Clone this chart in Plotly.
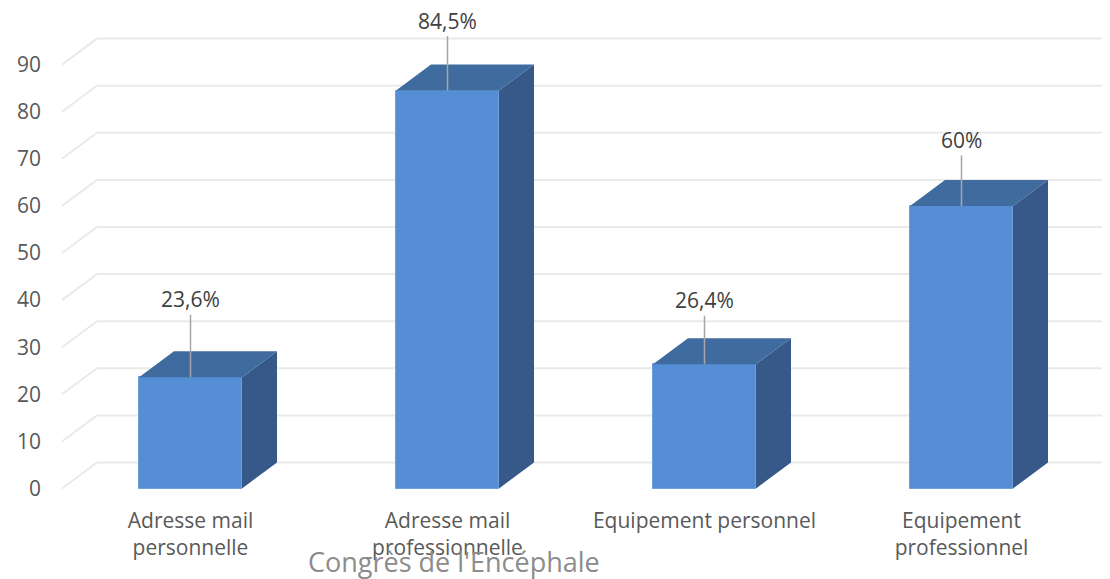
import plotly.graph_objects as go

# ---------------- data ----------------
categories = ["Adresse mail<br>personnelle", "Adresse mail<br>professionnelle",
              "Equipement personnel", "Equipement<br>professionnel"]
values = [23.6, 84.5, 26.4, 60]
value_labels = ["23,6%", "84,5%", "26,4%", "60%"]
y_ticks = [0, 10, 20, 30, 40, 50, 60, 70, 80, 90]
watermark = "Congrès de l'Encéphale"

# ---------------- geometry / style ----------------
PAGE_OFF = 8                          # default page body margin
W, H = 1110 - PAGE_OFF, 579 - PAGE_OFF
ml, mr, mt, mb = 62 - PAGE_OFF, 0, 32 - PAGE_OFF, 86
plot_w = W - ml - mr
plot_h = H - mt - mb
px_per_cat = 257.0
px_per_unit = 4.71
zero_px = 488.5 - PAGE_OFF            # pixel row of value 0 (front plane)
zero_in_plot = zero_px - mt
y_range = [-(plot_h - zero_in_plot) / px_per_unit, zero_in_plot / px_per_unit]
x_range = [-0.5, -0.5 + plot_w / px_per_cat]
ddx = 35.0 / px_per_cat              # depth offset in category units
ddy = 26.0 / px_per_unit             # depth offset in value units
bw = 103.0 / px_per_cat              # bar width

front_col = "#558ED5"
top_col = "#3F6B9F"
side_col = "#36598A"
grid_col = "#EAEAEA"
text_col = "#595959"
font_family = "Open Sans"
label_offsets_px = [78, 70, 64, 66]  # data-label distance above bar tops

xs = list(range(len(values)))

fig = go.Figure()

# side faces
sx, sy = [], []
for c, v in zip(xs, values):
    r = c + bw / 2
    sx += [r, r + ddx, r + ddx, r, r, None]
    sy += [0, ddy, v + ddy, v, 0, None]
fig.add_trace(go.Scatter(x=sx, y=sy, fill="toself", fillcolor=side_col, mode="lines",
                         line=dict(width=0, color=side_col), hoverinfo="skip", showlegend=False))

# top faces
tx, ty = [], []
for c, v in zip(xs, values):
    l, r = c - bw / 2, c + bw / 2
    tx += [l, l + ddx, r + ddx, r, l, None]
    ty += [v, v + ddy, v + ddy, v, v, None]
fig.add_trace(go.Scatter(x=tx, y=ty, fill="toself", fillcolor=top_col, mode="lines",
                         line=dict(width=0, color=top_col), hoverinfo="skip", showlegend=False))

# front faces
fig.add_trace(go.Bar(x=xs, y=values, width=bw, marker=dict(color=front_col,
                     line=dict(color="#6E9FDC", width=1)), showlegend=False, hoverinfo="skip"))

# 3D gridlines (left diagonal + back wall)
shapes = []
for t in y_ticks:
    shapes.append(dict(type="line", xref="x", yref="y", layer="below",
                       x0=x_range[0], y0=t, x1=x_range[0] + ddx, y1=t + ddy,
                       line=dict(color=grid_col, width=2)))
    shapes.append(dict(type="line", xref="x", yref="y", layer="below",
                       x0=x_range[0] + ddx, y0=t + ddy, x1=x_range[1] + 0.05, y1=t + ddy,
                       line=dict(color=grid_col, width=2)))

annotations = []
for c, v, lab, off in zip(xs, values, value_labels, label_offsets_px):
    annotations.append(dict(x=c, y=v, xref="x", yref="y", text=lab, showarrow=True,
                            arrowhead=0, arrowwidth=1.5, arrowcolor="#A6A6A6",
                            ax=0, ay=-off, font=dict(size=21, color="#404040", family=font_family)))

annotations.append(dict(text=watermark, xref="paper", yref="paper",
                        x=(454 - PAGE_OFF - ml) / plot_w, y=(H - mb - (561 - PAGE_OFF)) / plot_h,
                        xanchor="center", yanchor="middle", showarrow=False,
                        font=dict(size=27, color="#8C8C8C", family=font_family)))

fig.update_layout(
    width=W, height=H,
    margin=dict(l=ml, r=mr, t=mt, b=mb),
    paper_bgcolor="white", plot_bgcolor="white",
    font=dict(family=font_family, color=text_col),
    shapes=shapes, annotations=annotations,
    bargap=0,
    xaxis=dict(range=x_range, tickvals=xs, ticktext=categories, showgrid=False,
               zeroline=False, showline=False, ticks="", fixedrange=True,
               tickfont=dict(size=21, color=text_col), ticklabelstandoff=13),
    yaxis=dict(range=y_range, tickvals=y_ticks, showgrid=False, zeroline=False,
               showline=False, ticks="", fixedrange=True,
               tickfont=dict(size=21, color=text_col), ticklabelstandoff=20),
)

fig.write_html("out.html")
